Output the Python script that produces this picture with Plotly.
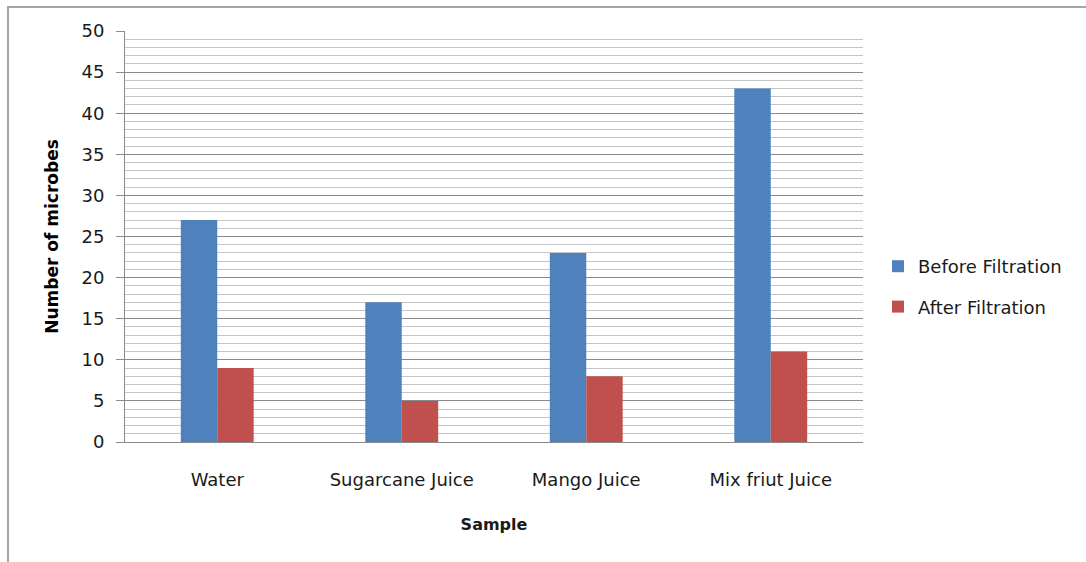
import plotly.graph_objects as go

categories = ["Water", "Sugarcane Juice", "Mango Juice", "Mix friut Juice"]
before_filtration = [27, 17, 23, 43]
after_filtration = [9, 5, 8, 11]
y_ticks = [0, 5, 10, 15, 20, 25, 30, 35, 40, 45, 50]

W, H = 1086, 562
L, R, T, B = 125, 223, 31, 120
pw, ph = W - L - R, H - T - B

def px_x(p):
    return (p - L) / pw

def px_y(p):
    return (H - B - p) / ph

font_family = "DejaVu Sans, sans-serif"

fig = go.Figure()
fig.add_trace(go.Bar(name="Before Filtration", x=categories, y=before_filtration,
                     legendgroup="before",
                     marker=dict(color="#4F81BD", line=dict(width=0))))
fig.add_trace(go.Bar(name="After Filtration", x=categories, y=after_filtration,
                     legendgroup="after",
                     marker=dict(color="#C0504D", line=dict(width=0))))

fig.update_layout(
    width=W, height=H,
    margin=dict(l=L, r=R, t=T, b=B, autoexpand=False),
    paper_bgcolor="white", plot_bgcolor="white",
    barmode="group", bargap=0.605, bargroupgap=0,
    font=dict(family=font_family, size=18, color="#1a1a1a"),
    legend=dict(x=px_x(878), y=px_y(248), xanchor="left", yanchor="top",
                font=dict(size=18, color="#1a1a1a"), tracegroupgap=14,
                itemwidth=30, bgcolor="rgba(0,0,0,0)"),
    showlegend=True,
    shapes=[
        dict(type="line", xref="paper", yref="paper", x0=px_x(8), x1=px_x(1090),
             y0=px_y(7), y1=px_y(7), line=dict(color="#a6a6a6", width=2)),
        dict(type="line", xref="paper", yref="paper", x0=px_x(8), x1=px_x(8),
             y0=px_y(6), y1=px_y(566), line=dict(color="#a6a6a6", width=2)),
    ],
)

fig.update_yaxes(
    range=[0, 50], tickvals=y_ticks, ticktext=[str(v) for v in y_ticks],
    showgrid=True, gridcolor="#8a8a8a", gridwidth=1,
    minor=dict(dtick=1, tick0=0, showgrid=True, gridcolor="#c4c4c4", gridwidth=1, ticks=""),
    showline=True, linecolor="#8a8a8a", linewidth=1,
    ticks="outside", ticklen=8, tickcolor="#8a8a8a",
    ticklabelstandoff=8,
    tickfont=dict(size=18, color="#1a1a1a"),
    zeroline=False,
    title=dict(text="<b>Number of microbes</b>", font=dict(size=17, color="#000000"), standoff=18),
)
fig.update_xaxes(
    showline=True, linecolor="#8a8a8a", linewidth=1,
    ticks="", ticklabelstandoff=21,
    tickfont=dict(size=18, color="#1a1a1a"),
    title=dict(text="<b>Sample</b>", font=dict(size=16, color="#1a1a1a"), standoff=30),
)

fig.write_html("out.html")
